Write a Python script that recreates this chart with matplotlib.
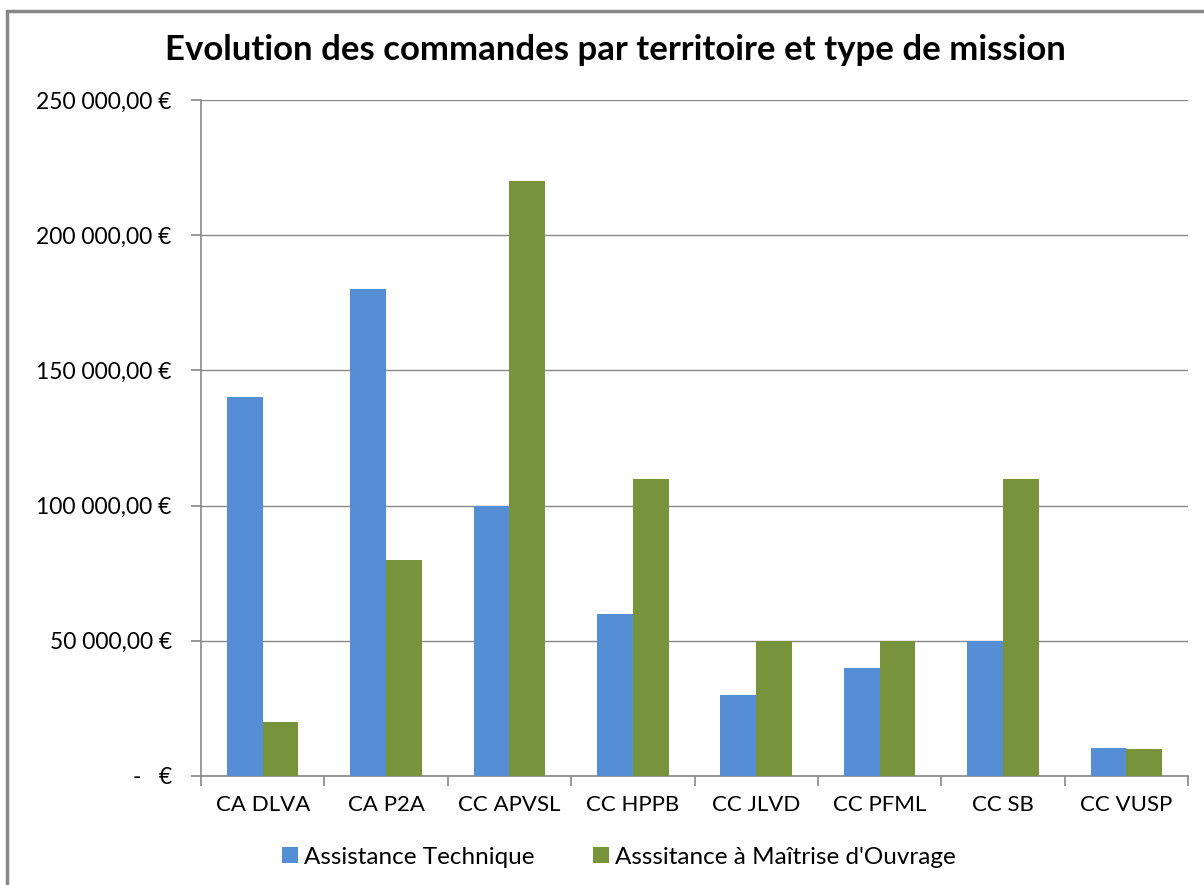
import numpy as np
import matplotlib
matplotlib.use("Agg")
import matplotlib.pyplot as plt
from matplotlib.ticker import FuncFormatter, FixedLocator
from matplotlib.patches import Rectangle

plt.rcParams['font.family'] = ['Lato', 'DejaVu Sans']

territoires = ["CA DLVA", "CA P2A", "CC APVSL", "CC HPPB", "CC JLVD", "CC PFML", "CC SB", "CC VUSP"]
assistance_technique = [140000, 180000, 100000, 60000, 30000, 40000, 50000, 10500]
assistance_moa = [20000, 80000, 220000, 110000, 50000, 50000, 110000, 10000]
series_labels = ["Assistance Technique", "Asssitance à Maîtrise d'Ouvrage"]

def euro_fmt(v, pos):
    if v == 0:
        return "-   €"
    s = "{:,.2f}".format(v).replace(",", " ").replace(".", ",")
    return s + " €"

fig = plt.figure(figsize=(12.04, 8.85), dpi=100)
# outer frame of the chart
fig.patches.append(Rectangle((7 / 1204, -0.05), 1.2, 1 - 11 / 885 + 0.05, transform=fig.transFigure,
                             fill=False, edgecolor="#888888", linewidth=2.5))

ax = fig.add_axes([201 / 1204, 1 - 776 / 885, 987 / 1204, 676 / 885])
x = np.arange(len(territoires))
w = 0.29
ax.bar(x - w / 2, assistance_technique, w, color="#558ED5", label=series_labels[0], zorder=3)
ax.bar(x + w / 2, assistance_moa, w, color="#77933C", label=series_labels[1], zorder=3)

ax.set_xlim(-0.5, len(territoires) - 0.5)
ax.set_ylim(0, 250000)
ax.set_yticks(np.arange(0, 250001, 50000))
ax.yaxis.set_major_formatter(FuncFormatter(euro_fmt))
ax.grid(axis="y", color="#888888", linewidth=1, zorder=0)

ax.set_xticks(x)
ax.set_xticklabels(territoires)
ax.xaxis.set_minor_locator(FixedLocator(np.arange(-0.5, len(territoires), 1)))
ax.tick_params(axis="x", which="major", length=0, pad=14, labelsize=16)
ax.tick_params(axis="x", which="minor", length=7, color="#888888", width=1.2)
ax.tick_params(axis="y", length=7, color="#888888", width=1.2, labelsize=16.5, pad=14)

for side in ["top", "right"]:
    ax.spines[side].set_visible(False)
for side in ["left", "bottom"]:
    ax.spines[side].set_color("#888888")
    ax.spines[side].set_linewidth(1.2)

fig.text(0.511, 1 - 50 / 885, "Evolution des commandes par territoire et type de mission",
         ha="center", va="center", fontsize=25, fontweight="bold")

fig.legend(loc="center", bbox_to_anchor=(0.514, 1 - 857 / 885), ncol=2, frameon=False,
           fontsize=17.5, handlelength=0.65, handleheight=0.65, handletextpad=0.25, columnspacing=2.4)

fig.savefig("out.png", dpi=100)
